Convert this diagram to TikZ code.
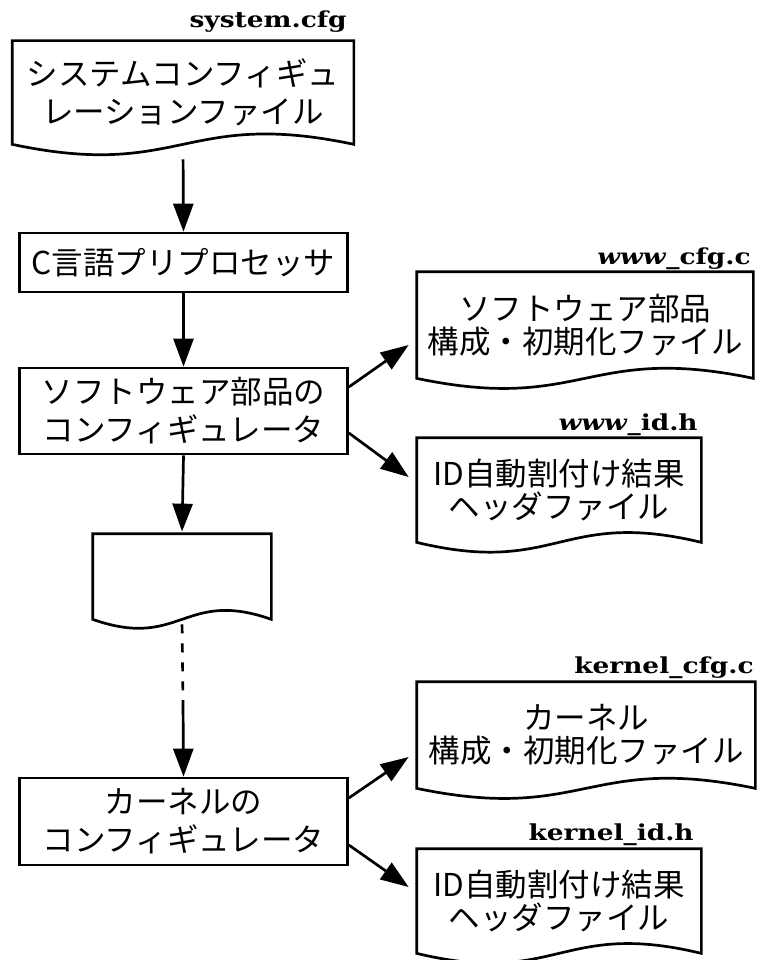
\documentclass[tikz,border=0pt]{standalone}
\usepackage{fontspec}
\usetikzlibrary{arrows.meta,calc}
\newfontfamily\jpfont{Noto Sans CJK JP}
\newfontfamily\labfont[FakeStretch=1.2]{DejaVu Serif}
\newcommand\docoutline[3]{\draw (#1.south west) -- (#1.north west) -- (#1.north east) -- (#1.south east) .. controls +(-#2,-#3) and +(#2,#3) .. (#1.south west) -- cycle;}
\begin{document}
\begin{tikzpicture}[x=1pt,y=-1pt,line width=2.7pt,
  box/.style={draw, inner sep=0pt, align=center, font=\jpfont\fontsize{31.5}{38}\selectfont},
  leftdoc/.style={inner sep=0pt, align=center, font=\jpfont\fontsize{31.5}{38}\selectfont},
  rightdoc/.style={inner sep=0pt, align=center, font=\jpfont\fontsize{31.5}{33}\selectfont},
  lab/.style={anchor=base east, inner sep=0pt, font=\labfont\bfseries\fontsize{22}{26}\selectfont},
  arr/.style={-{Triangle[length=28pt,width=20pt]}},
  dashline/.style={dash pattern=on 9pt off 10pt}]
\useasboundingbox (0,0) rectangle (757,960);
% left column
\node[leftdoc, minimum width=339, minimum height=101] (sys) at (183,92.5) {システムコンフィギュ\\レーションファイル};
\docoutline{sys}{170}{36}
\node[lab] (syslab) at (348,28) {system.cfg};
\node[box, minimum width=328, minimum height=59] (cpp) at (183.5,262.5) {C言語プリプロセッサ};
\node[box, minimum width=328, minimum height=86] (swconf) at (183.5,411) {ソフトウェア部品の\\コンフィギュレータ};
\node[leftdoc, minimum width=176, minimum height=83] (blank) at (182,576.5) {};
\docoutline{blank}{88}{31}
\coordinate (mid) at (183,700);
\node[box, minimum width=328, minimum height=87] (kconf) at (183.5,821.5) {カーネルの\\コンフィギュレータ};
% right column
\node[rightdoc, minimum width=334, minimum height=104] (wcfg) at (585,325) {ソフトウェア部品\\構成・初期化ファイル};
\docoutline{wcfg}{167}{35}
\node[lab] (wcfglab) at (752,264) {\textit{www}\_cfg.c};
\node[rightdoc, minimum width=282, minimum height=102] (wid) at (559,490) {ID自動割付け結果\\ヘッダファイル};
\docoutline{wid}{141}{34}
\node[lab] (widlab) at (699,430) {\textit{www}\_id.h};
\node[rightdoc, minimum width=336, minimum height=104] (kcfg) at (586,735) {カーネル\\構成・初期化ファイル};
\docoutline{kcfg}{168}{35}
\node[lab] (kcfglab) at (755,673) {kernel\_cfg.c};
\node[rightdoc, minimum width=282, minimum height=102] (kid) at (559,901) {ID自動割付け結果\\ヘッダファイル};
\docoutline{kid}{141}{34}
\node[lab] (kidlab) at (695,840) {kernel\_id.h};
% connectors
\draw[arr, shorten <=15pt] (sys.south) -- (cpp.north);
\draw[arr] (cpp.south) -- (swconf.north);
\draw[arr, shorten >=2pt] (swconf.south) -- (blank.north);
\draw[dashline, shorten <=5pt] (blank.south) -- (mid);
\draw[arr] (mid) -- (kconf.north);
\draw[arr] ($(swconf.east)+(0,-24)$) -- ($(wcfg.west)+(-8,20)$);
\draw[arr] ($(swconf.east)+(0,22)$) -- ($(wid.west)+(-8,-13)$);
\draw[arr] ($(kconf.east)+(0,-23.5)$) -- ($(kcfg.west)+(-8,22)$);
\draw[arr] ($(kconf.east)+(0,23.5)$) -- ($(kid.west)+(-8,-14)$);
\end{tikzpicture}
\end{document}
